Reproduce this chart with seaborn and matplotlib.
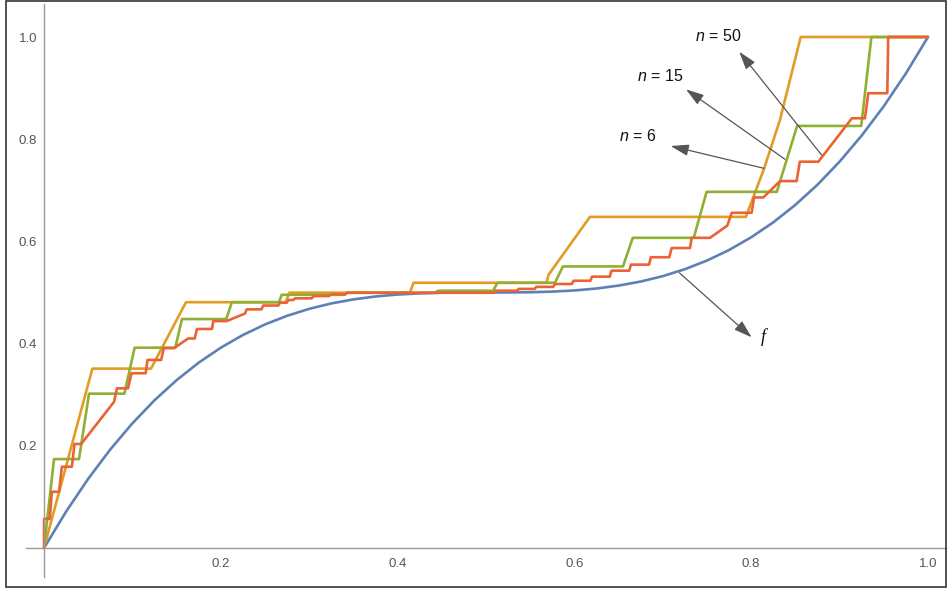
import numpy as np
import pandas as pd
import matplotlib
matplotlib.use("Agg")
import matplotlib.pyplot as plt
from matplotlib.patches import Rectangle
import seaborn as sns

# ---- data ----
f_x = [0.0, 0.025, 0.05, 0.075, 0.1, 0.125, 0.15, 0.175, 0.2, 0.225, 0.25, 0.275, 0.3,
       0.325, 0.35, 0.375, 0.4, 0.425, 0.45, 0.475, 0.5, 0.525, 0.55, 0.575, 0.6, 0.625,
       0.65, 0.675, 0.7, 0.725, 0.75, 0.775, 0.8, 0.825, 0.85, 0.875, 0.9, 0.925, 0.95,
       0.975, 1.0]
f_y = [0.0, 0.0713, 0.1355, 0.1929, 0.244, 0.2891, 0.3285, 0.3627, 0.392, 0.4168, 0.4375,
       0.4544, 0.468, 0.4786, 0.4865, 0.4922, 0.496, 0.4983, 0.4995, 0.4999, 0.5, 0.5001,
       0.5005, 0.5017, 0.504, 0.5078, 0.5135, 0.5214, 0.532, 0.5456, 0.5625, 0.5832, 0.608,
       0.6373, 0.6715, 0.7109, 0.756, 0.8071, 0.8645, 0.9287, 1.0]

n6_x = [0.0, 0.0547, 0.121, 0.1606, 0.2735, 0.2775, 0.414, 0.418, 0.5686, 0.5705, 0.6176,
        0.794, 0.8145, 0.8326, 0.856, 1.0]
n6_y = [0.0, 0.351, 0.351, 0.481, 0.481, 0.4997, 0.4997, 0.519, 0.519, 0.534, 0.648,
        0.648, 0.742, 0.838, 1.0, 1.0]

n15_x = [0.0, 0.0113, 0.0396, 0.0509, 0.0909, 0.1025, 0.1485, 0.156, 0.2062, 0.2125, 0.2658,
         0.2689, 0.340, 0.343, 0.442, 0.446, 0.508, 0.513, 0.578, 0.587, 0.655, 0.666, 0.735,
         0.7496, 0.829, 0.852, 0.9245, 0.936, 1.0]
n15_y = [0.0, 0.174, 0.174, 0.302, 0.302, 0.392, 0.392, 0.448, 0.448, 0.481, 0.481,
         0.4955, 0.4955, 0.4995, 0.4995, 0.5035, 0.5035, 0.519, 0.519, 0.551, 0.551, 0.607,
         0.607, 0.697, 0.697, 0.826, 0.826, 1.0, 1.0]

n50_x = [0.0, 0.0, 0.0065, 0.0088, 0.017, 0.0202, 0.0315, 0.0345, 0.042, 0.0792, 0.0825,
         0.095, 0.099, 0.115, 0.117, 0.1325, 0.1355, 0.147, 0.163, 0.1705, 0.173, 0.190,
         0.1915, 0.2066, 0.2274, 0.2293, 0.246, 0.248, 0.265, 0.267, 0.2745, 0.2765, 0.282,
         0.284, 0.3028, 0.305, 0.3225, 0.3245, 0.341, 0.343, 0.509, 0.511, 0.535, 0.537,
         0.555, 0.557, 0.576, 0.578, 0.597, 0.599, 0.618, 0.620, 0.640, 0.642, 0.662, 0.664,
         0.6845, 0.6865, 0.7074, 0.710, 0.7308, 0.7327, 0.7534, 0.773, 0.778, 0.8005, 0.8032,
         0.8137, 0.8326, 0.8514, 0.855, 0.876, 0.914, 0.9287, 0.9325, 0.954, 0.955, 1.0]
n50_y = [0.0, 0.057, 0.057, 0.110, 0.110, 0.159, 0.159, 0.2035, 0.2035, 0.286, 0.3125,
         0.3125, 0.342, 0.342, 0.368, 0.368, 0.391, 0.391, 0.410, 0.410, 0.4286, 0.4286,
         0.444, 0.444, 0.459, 0.467, 0.467, 0.4745, 0.4745, 0.480, 0.480, 0.4853, 0.4853,
         0.4886, 0.4886, 0.493, 0.493, 0.4965, 0.4965, 0.4995, 0.4995, 0.5035, 0.5035, 0.507,
         0.507, 0.511, 0.511, 0.5166, 0.5166, 0.523, 0.523, 0.531, 0.531, 0.5427, 0.5427,
         0.5545, 0.5545, 0.569, 0.569, 0.587, 0.587, 0.607, 0.607, 0.631, 0.656, 0.656, 0.686,
         0.686, 0.718, 0.718, 0.756, 0.756, 0.841, 0.841, 0.890, 0.890, 1.0, 1.0]

series_names = ["f", "n = 6", "n = 15", "n = 50"]
colors = ["#5E81B5", "#E19C24", "#8FB032", "#EB6235"]
x_ticks = [0.2, 0.4, 0.6, 0.8, 1.0]
x_tick_labels = ["0.2", "0.4", "0.6", "0.8", "1.0"]
y_ticks = [0.2, 0.4, 0.6, 0.8, 1.0]
y_tick_labels = ["0.2", "0.4", "0.6", "0.8", "1.0"]

frames = []
for name, xs, ys in zip(series_names, [f_x, n6_x, n15_x, n50_x], [f_y, n6_y, n15_y, n50_y]):
    frames.append(pd.DataFrame({"x": xs, "y": ys, "series": name, "order": np.arange(len(xs))}))
df = pd.concat(frames, ignore_index=True)

sns.set_style("white")
plt.rcParams["font.family"] = ["Liberation Sans", "DejaVu Sans"]
plt.rcParams["mathtext.fontset"] = "custom"
plt.rcParams["mathtext.it"] = "Liberation Sans:italic"
plt.rcParams["mathtext.rm"] = "Liberation Sans"

W, H = 949, 592
fig = plt.figure(figsize=(W / 100, H / 100), dpi=100)
ax = fig.add_axes([26 / W, (H - 577) / H, (946 - 26) / W, (577 - 4) / H])

for name, col in zip(series_names, colors):
    sub = df[df["series"] == name]
    sns.lineplot(data=sub, x="x", y="y", sort=False, estimator=None, color=col,
                 linewidth=1.9, ax=ax, legend=False)

ax.set_xlim(-0.0204, 1.0204)
ax.set_ylim(-0.0568, 1.0646)
ax.set_xlabel("")
ax.set_ylabel("")

axis_col = "#9a9a9a"
for s in ["top", "right"]:
    ax.spines[s].set_visible(False)
ax.spines["left"].set_position(("data", 0))
ax.spines["bottom"].set_position(("data", 0))
ax.spines["left"].set_color(axis_col)
ax.spines["bottom"].set_color(axis_col)
ax.spines["left"].set_linewidth(1.0)
ax.spines["bottom"].set_linewidth(1.0)

ax.set_xticks(x_ticks)
ax.set_xticklabels(x_tick_labels)
ax.set_yticks(y_ticks)
ax.set_yticklabels(y_tick_labels)
ax.set_xticks([v for v in np.round(np.arange(0.05, 1.0, 0.05), 2) if v not in x_ticks], minor=True)
ax.set_yticks([v for v in np.round(np.arange(-0.05, 1.05, 0.05), 2) if v not in y_ticks and v != 0], minor=True)
ax.tick_params(axis="both", which="major", direction="in", length=4.5, width=0.9,
               color=axis_col, labelcolor="#555555", labelsize=9.5)
ax.tick_params(axis="both", which="minor", direction="in", length=2.5, width=0.8, color=axis_col)
ax.tick_params(axis="x", which="major", pad=7.5)
ax.tick_params(axis="y", which="major", pad=5)
ax.grid(False)

arrow_kw = dict(arrowstyle="-|>,head_length=1.1,head_width=0.35", color="#555555", lw=0.9,
                shrinkA=0, shrinkB=0)
ax.annotate("", xy=(0.7865, 0.9712), xytext=(0.8797, 0.769), arrowprops=arrow_kw)
ax.annotate("", xy=(0.7262, 0.8976), xytext=(0.8382, 0.7607), arrowprops=arrow_kw)
ax.annotate("", xy=(0.709, 0.7867), xytext=(0.8145, 0.743), arrowprops=arrow_kw)
ax.annotate("", xy=(0.8005, 0.4123), xytext=(0.7187, 0.5386), arrowprops=arrow_kw)

ax.text(0.7624, 1.002, "$n$ = 50", ha="center", va="center", fontsize=11.5, color="#111111")
ax.text(0.6968, 0.9237, "$n$ = 15", ha="center", va="center", fontsize=11.5, color="#111111")
ax.text(0.672, 0.806, "$n$ = 6", ha="center", va="center", fontsize=11.5, color="#111111")
ax.text(0.8137, 0.4135, "f", ha="center", va="center", fontsize=13, style="italic",
        family=["Liberation Serif", "DejaVu Serif"], color="#111111")

fig.patches.append(Rectangle((6 / W, (H - 587) / H), (946 - 6) / W, (587 - 1) / H,
                             transform=fig.transFigure, fill=False, edgecolor="#333333",
                             linewidth=1.2))

fig.savefig("out.png", dpi=100)
